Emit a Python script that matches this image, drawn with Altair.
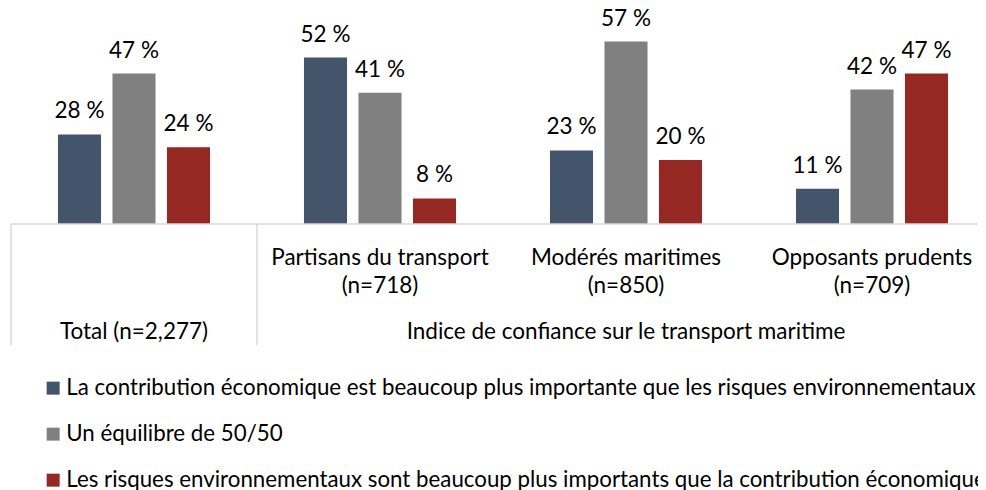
import altair as alt
import pandas as pd

groups = ["Total", "Partisans", "Modérés", "Opposants"]
group_labels = ["", "Partisans du transport\n(n=718)", "Modérés maritimes\n(n=850)", "Opposants prudents\n(n=709)"]
series = [
    "La contribution économique est beaucoup plus importante que les risques environnementaux",
    "Un équilibre de 50/50",
    "Les risques environnementaux sont beaucoup plus importants que la contribution économique",
]
eco = [28, 52, 23, 11]
equal = [47, 41, 57, 42]
risk = [24, 8, 20, 47]
colors = ["#44546A", "#808080", "#962823"]
level2_groups = ["Total", "Modérés"]
level2_labels = ["Total (n=2,277)", "Indice de confiance sur le transport maritime"]
separator_groups = ["Total", "Partisans"]
baseline = [0]

rows = []
for s, vals in zip(series, [eco, equal, risk]):
    for g, v in zip(groups, vals):
        rows.append({"group": g, "series": s, "value": v, "label": f"{v} %"})
df = pd.DataFrame(rows)
df_groups = pd.DataFrame({"group": groups, "label": group_labels})
df_l2 = pd.DataFrame({"group": level2_groups, "label": level2_labels})
df_b = pd.DataFrame({"group": separator_groups})
df_base = pd.DataFrame({"value": baseline})

FONT = "Lato"
FS = 22.5
LFS = 22.3
H = 192

xscale = alt.Scale(domain=groups, range=[0, 984], paddingInner=0, paddingOuter=0)
x = alt.X("group:N", sort=groups, scale=xscale,
          axis=alt.Axis(labels=False, ticks=False, title=None, domain=False))
xo = alt.XOffset("series:N", sort=series, scale=alt.Scale(domain=series, paddingInner=0.21, paddingOuter=0.862))
y = alt.Y("value:Q", scale=alt.Scale(domain=[0, 60]), axis=None)

bars = alt.Chart(df).mark_bar().encode(
    x=x, xOffset=xo, y=y,
    color=alt.Color("series:N", sort=series,
                    scale=alt.Scale(domain=series, range=colors),
                    legend=alt.Legend(orient="none", legendX=31, legendY=345, direction="vertical",
                                      title=None, symbolType="square", symbolSize=169,
                                      symbolStrokeWidth=0, labelFont=FONT, labelFontSize=LFS,
                                      labelColor="#000000", rowPadding=23, padding=0,
                                      labelOffset=2, labelLimit=2000)),
)

texts = alt.Chart(df).mark_text(font=FONT, fontSize=FS, color="#000000", baseline="alphabetic", dy=-16).encode(
    x=x, xOffset=xo, y=y, text="label:N"
)

glabels = alt.Chart(df_groups).mark_text(font=FONT, fontSize=FS, color="#000000", baseline="alphabetic",
                                         lineBreak="\n", lineHeight=28).encode(
    x=x, y=alt.value(H + 41), text="label:N"
)

l2 = alt.Chart(df_l2).mark_text(font=FONT, fontSize=FS, color="#000000", baseline="alphabetic").encode(
    x=x, y=alt.value(H + 115), text="label:N"
)

seps = alt.Chart(df_b).mark_rule(color="#D9D9D9", strokeWidth=1.5).encode(
    x=alt.X("group:N", sort=groups, scale=xscale, bandPosition=0),
    y=alt.value(H), y2=alt.value(H + 121)
)

base = alt.Chart(df_base).mark_rule(color="#D9D9D9", strokeWidth=1.5).encode(
    y="value:Q", x=alt.value(0), x2=alt.value(984)
)

chart = alt.layer(bars, texts, glabels, l2, seps, base).properties(
    width=967, height=H,
    autosize=alt.AutoSizeParams(type="none"),
    padding={"left": 3, "top": 24, "right": 0, "bottom": 280},
).configure_view(stroke=None)

chart.save("out.html", embed_options={"renderer": "svg", "actions": False})
